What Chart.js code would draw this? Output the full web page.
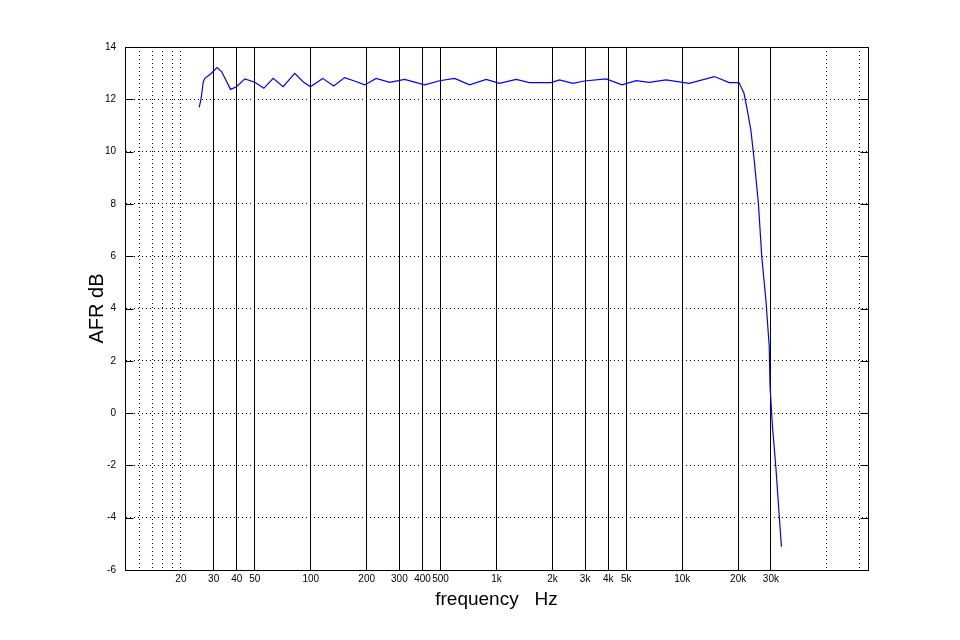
<!DOCTYPE html>
<html>
<head>
<meta charset="utf-8">
<style>
  html, body { margin: 0; padding: 0; background: #fff; }
</style>
<script src="https://cdn.jsdelivr.net/npm/chart.js@4.4.1/dist/chart.umd.min.js"></script>
</head>
<body>
<canvas id="afr" width="960" height="640"></canvas>
<script>
// Frequency response (Hz / dB)
const freqHz = [
  25.1, 25.7, 26.4, 26.9, 28.9, 31.3, 33.1, 37.0, 39.8, 44.2,
  50.0, 55.9, 62.7, 71.0, 82.0, 90.9, 99.6, 116, 133, 152,
  172, 195, 225, 266, 320, 410, 494, 595, 716, 881,
  1038, 1276, 1504, 1968, 2182, 2573, 2972, 3890, 4740, 5640,
  6646, 8170, 10900, 14900, 17900, 20200, 21500, 22400, 23400, 24400,
  25700, 26800, 28200, 29400, 29700, 30600, 31900, 33200, 34200
];
const afrDb = [
  11.69, 12.04, 12.67, 12.80, 12.97, 13.21, 13.06, 12.38, 12.48, 12.78,
  12.65, 12.42, 12.80, 12.48, 12.99, 12.67, 12.48, 12.80, 12.51, 12.83,
  12.70, 12.55, 12.80, 12.65, 12.76, 12.55, 12.71, 12.80, 12.55, 12.76,
  12.61, 12.76, 12.64, 12.64, 12.74, 12.61, 12.70, 12.78, 12.55, 12.71,
  12.65, 12.74, 12.61, 12.87, 12.64, 12.64, 12.23, 11.59, 10.83, 9.68,
  8.02, 5.98, 4.33, 2.54, 1.01, -0.52, -2.05, -3.83, -5.11
];

const xTicks = [12, 14, 16, 18, 20, 30, 40, 50, 100, 200, 300, 400, 500,
                1000, 2000, 3000, 4000, 5000, 10000, 20000, 30000, 60000, 90000];
const xTickLabels = ['', '', '', '', '20', '30', '40', '50', '100', '200', '300', '400', '500',
                     '1k', '2k', '3k', '4k', '5k', '10k', '20k', '30k', '', ''];
const dottedX = [12, 14, 16, 18, 20, 60000, 90000];
const yTicks = [-6, -4, -2, 0, 2, 4, 6, 8, 10, 12, 14];

const DOTS = [1, 3];
const tickFont = { family: '"Liberation Sans", Arial, sans-serif', size: 10 };

// box round the plot plus MATLAB-style inward y ticks
const frame = {
  id: 'frame',
  afterDraw(chart) {
    const { ctx, chartArea: a, scales: { y } } = chart;
    const l = Math.round(a.left) + 0.5, r = Math.round(a.right) + 0.5;
    const t = Math.round(a.top) + 0.5, b = Math.round(a.bottom) + 0.5;
    ctx.save();
    ctx.strokeStyle = '#000';
    ctx.lineWidth = 1;
    ctx.setLineDash([]);
    ctx.strokeRect(l, t, r - l, b - t);
    ctx.beginPath();
    yTicks.forEach(v => {
      const py = Math.round(y.getPixelForValue(v)) + 0.5;
      ctx.moveTo(l, py); ctx.lineTo(l + 8, py);
      ctx.moveTo(r - 8, py); ctx.lineTo(r, py);
    });
    ctx.stroke();
    ctx.restore();
  }
};

new Chart(document.getElementById('afr'), {
  type: 'scatter',
  data: {
    datasets: [{
      data: freqHz.map((f, i) => ({ x: f, y: afrDb[i] })),
      showLine: true,
      borderColor: '#0000ff',
      borderWidth: 1.2,
      pointRadius: 0,
      tension: 0,
    }],
  },
  options: {
    responsive: false,
    animation: false,
    events: [],
    layout: { padding: { left: 85, right: 92, top: 47, bottom: 29 } },
    plugins: { legend: { display: false }, tooltip: { enabled: false } },
    scales: {
      x: {
        type: 'logarithmic',
        min: 10,
        max: 100000,
        afterBuildTicks: s => { s.ticks = xTicks.map(v => ({ value: v })); },
        afterFit: s => { s.height = 41; },
        ticks: {
          autoSkip: false,
          maxRotation: 0,
          padding: 3,
          color: '#000',
          font: tickFont,
          callback: v => xTickLabels[xTicks.indexOf(v)] ?? '',
        },
        grid: {
          drawTicks: false,
          color: '#000',
          lineWidth: 1,
        },
        border: {
          color: '#000',
          dash: c => (c.tick && dottedX.includes(c.tick.value)) ? DOTS : [],
        },
        title: {
          display: true,
          text: 'frequency   Hz',
          color: '#000',
          font: { family: '"Liberation Sans", Arial, sans-serif', size: 19 },
          padding: { top: 0, bottom: 0 },
        },
      },
      y: {
        min: -6,
        max: 14,
        afterBuildTicks: s => { s.ticks = yTicks.map(v => ({ value: v })); },
        afterFit: s => { s.width = 40; },
        ticks: {
          padding: 9,
          color: '#000',
          font: tickFont,
        },
        grid: {
          drawTicks: false,
          color: '#000',
          lineWidth: 1,
        },
        border: { color: '#000', dash: DOTS },
        title: {
          display: true,
          text: 'AFR dB',
          color: '#000',
          font: { family: '"Liberation Sans", Arial, sans-serif', size: 20 },
          padding: { top: 0, bottom: 0 },
        },
      },
    },
  },
  plugins: [frame],
});
</script>
</body>
</html>
